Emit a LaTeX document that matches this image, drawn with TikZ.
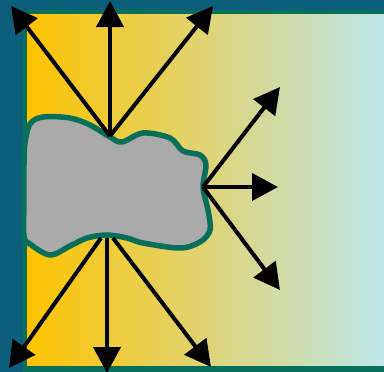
\documentclass[tikz,border=0pt]{standalone}
\usetikzlibrary{arrows.meta}
\definecolor{teal1}{HTML}{0C5F7B}
\definecolor{green1}{HTML}{08705A}
\definecolor{warm}{HTML}{FFC300}
\definecolor{cool}{HTML}{BDE6EE}
\definecolor{blobgray}{HTML}{AAAAAA}
\tikzset{
  ray/.style={line width=4pt, -{Triangle[length=26pt,width=27pt]}},
  blob/.style={fill=blobgray, draw=green1, line width=5.5pt, line join=round},
}
\begin{document}
\begin{tikzpicture}[x=1pt,y=-1pt]
\fill[teal1] (0,0) rectangle (384,372);
\useasboundingbox (0,0) rectangle (384,372);
\shade[left color=warm, right color=cool] (25,12) rectangle (390,368);
\draw[green1, line width=4pt] (25,390) -- (25,12) -- (390,12);
\draw[green1, line width=6pt] (25,369) -- (390,369);
% coordinates
\coordinate (top) at (110,136);
\coordinate (bot) at (107,238);
\coordinate (botl) at (101,238);
\coordinate (botr) at (113,238);
\coordinate (rt) at (203,187);
\coordinate (t1) at (11,6);
\coordinate (t2) at (110,1);
\coordinate (t3) at (213,6);
\coordinate (b1) at (9,368);
\coordinate (b2) at (107,373);
\coordinate (b3) at (211,367);
\coordinate (r1) at (280,87);
\coordinate (r2) at (278,187);
\coordinate (r3) at (280,290);
% blob
\draw[blob] plot[smooth cycle, tension=0.55] coordinates {
 (25,143) (30,124) (43,117) (70,118) (90,125) (110,137) (122,142)
 (143,133) (170,138) (183,151) (200,155) (206,165) (203,187)
 (208,210) (210,230) (200,242) (180,248) (143,243) (127,238)
 (107,235) (87,238) (70,246) (50,255) (30,244) (24,236)
 (24,200) (24,165)};
% rays
\draw[ray] (top) -- (t1);
\draw[ray] (top) -- (t2);
\draw[ray] (top) -- (t3);
\draw[ray] (botl) -- (b1);
\draw[ray] (bot) -- (b2);
\draw[ray] (botr) -- (b3);
\draw[ray] (rt) -- (r1);
\draw[ray] (rt) -- (r2);
\draw[ray] (rt) -- (r3);
\end{tikzpicture}
\end{document}
